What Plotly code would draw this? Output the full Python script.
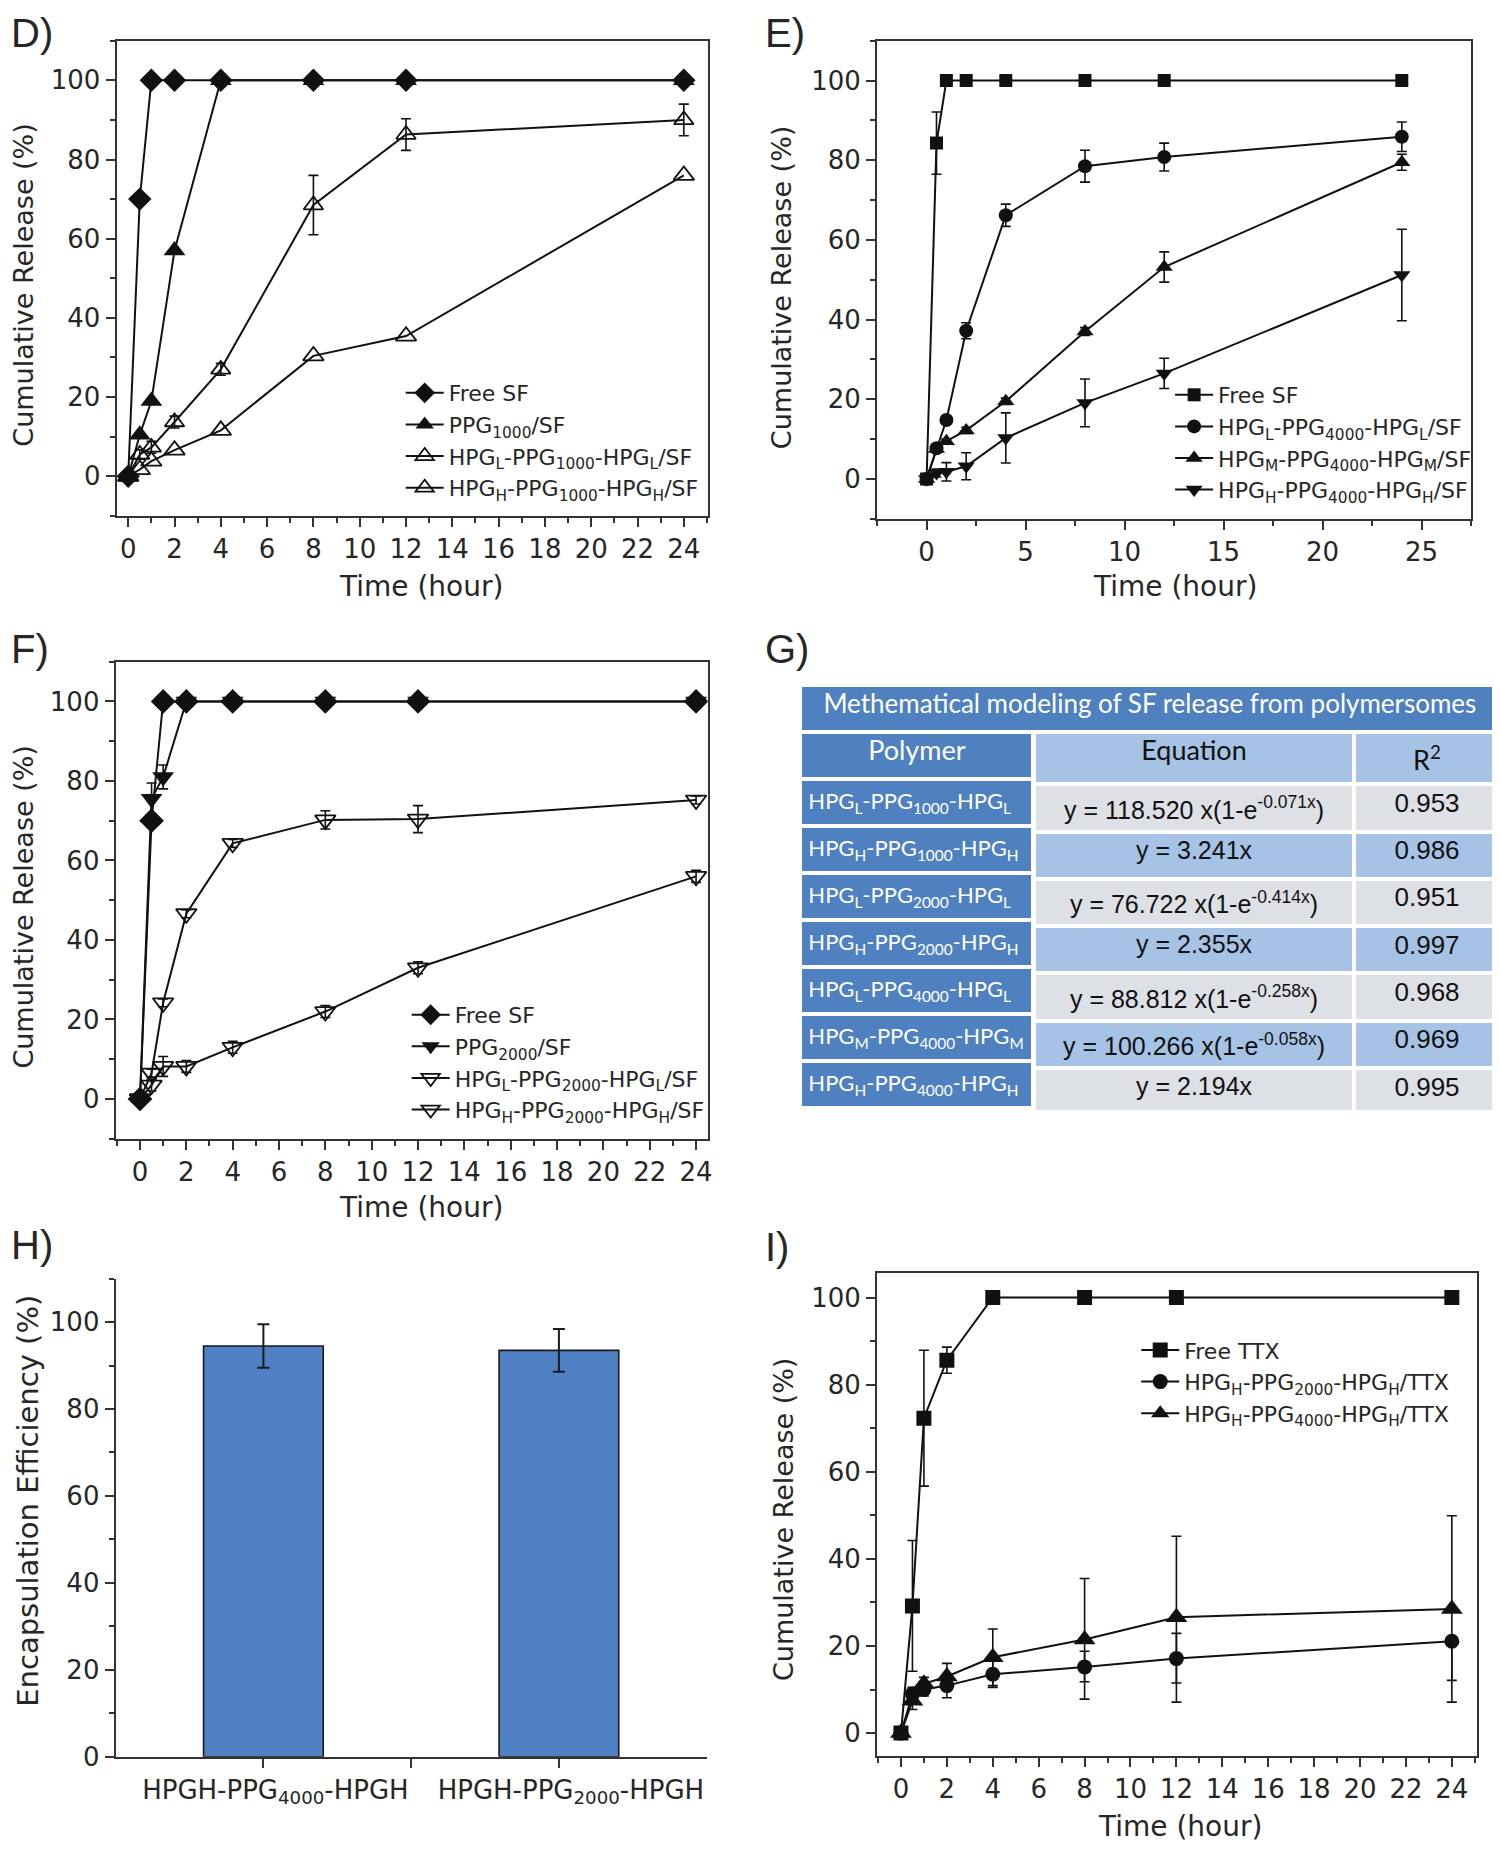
import plotly.graph_objects as go

W, H = 1500, 1853
FONT = "DejaVu Sans, Verdana, sans-serif"
ARIAL = "Liberation Sans, Arial, sans-serif"
HUM = "Lato, Open Sans, sans-serif"
TXT = "#262626"
LC = "#111111"

# ---------------- data ----------------
t = [0, 0.5, 1, 2, 4, 8, 12, 24]

# Panel D
d_free = [0, 70, 100, 100, 100, 100, 100, 100]
d_ppg = [0, 10.5, 19, 57, 100, 100, 100, 100]
d_hpgl = [0, 5.5, 7.3, 13.7, 27, 68.5, 86.3, 90]
d_hpgl_err = [0, 1.2, 1.5, 1.5, 1.5, 7.5, 4, 4]
d_hpgh = [0, 1.7, 3.8, 6.6, 11.6, 30.4, 35.4, 76]

# Panel E
e_free = [0, 84.3, 100, 100, 100, 100, 100, 100]
e_free_err = [0, 7.8, 0, 0, 0, 0, 0, 0]
e_hpgl = [0, 7.7, 14.8, 37.2, 66.2, 78.5, 80.8, 85.9]
e_hpgl_err = [0, 0.5, 1, 2, 2.8, 4, 3.5, 3.7]
e_hpgm = [0, 7.5, 9.5, 12.2, 19.5, 37, 53.2, 79.5]
e_hpgm_err = [0, 0.5, 0.5, 0.8, 0.8, 1, 3.8, 2]
e_hpgh = [0, 1.5, 1.8, 3.2, 10.3, 19.1, 26.5, 51.2]
e_hpgh_err = [0, 1, 2.3, 3.4, 6.3, 6, 3.8, 11.5]

# Panel F
f_free = [0, 70, 100, 100, 100, 100, 100, 100]
f_ppg = [0, 75.5, 81, 100, 100, 100, 100, 100]
f_ppg_err = [0, 4, 3, 0, 0, 0, 0, 0]
f_hpgl = [0, 6.5, 24.2, 46.6, 64.3, 70.2, 70.4, 75.2]
f_hpgl_err = [0, 1, 1, 1, 1, 2.3, 3.4, 1]
f_hpgh = [0, 3.5, 8.2, 8.2, 13, 22, 33, 56]
f_hpgh_err = [0, 1.5, 2.5, 1.5, 1.5, 1.5, 1.5, 1.5]

# Panel G (table)
g_title = "Methematical modeling of SF release from polymersomes"
g_header_poly = ["Polymer"]
g_header_fit = ["Equation", "R<sup>2</sup>"]
g_polymer = [
    "HPG<sub>L</sub>-PPG<sub>1000</sub>-HPG<sub>L</sub>",
    "HPG<sub>H</sub>-PPG<sub>1000</sub>-HPG<sub>H</sub>",
    "HPG<sub>L</sub>-PPG<sub>2000</sub>-HPG<sub>L</sub>",
    "HPG<sub>H</sub>-PPG<sub>2000</sub>-HPG<sub>H</sub>",
    "HPG<sub>L</sub>-PPG<sub>4000</sub>-HPG<sub>L</sub>",
    "HPG<sub>M</sub>-PPG<sub>4000</sub>-HPG<sub>M</sub>",
    "HPG<sub>H</sub>-PPG<sub>4000</sub>-HPG<sub>H</sub>",
]
g_equation = [
    "y = 118.520 x(1-e<sup>-0.071x</sup>)",
    "y = 3.241x",
    "y = 76.722 x(1-e<sup>-0.414x</sup>)",
    "y = 2.355x",
    "y = 88.812 x(1-e<sup>-0.258x</sup>)",
    "y = 100.266 x(1-e<sup>-0.058x</sup>)",
    "y = 2.194x",
]
g_r2 = ["0.953", "0.986", "0.951", "0.997", "0.968", "0.969", "0.995"]

# Panel H
h_cats = ["HPGH-PPG<sub>4000</sub>-HPGH", "HPGH-PPG<sub>2000</sub>-HPGH"]
h_vals = [94.5, 93.5]
h_err = [5, 4.9]

# Panel I
i_free = [0, 29.2, 72.3, 85.6, 100, 100, 100, 100]
i_free_err = [0, 15, 15.6, 3, 0, 0, 0, 0]
i_p2000 = [0, 9, 10, 10.9, 13.5, 15.2, 17.1, 21.1]
i_p2000_up = [0, 1.5, 1.5, 2.5, 3, 3.6, 5.8, 0]
i_p2000_dn = [0, 1.5, 1.5, 2.8, 3, 7.4, 10, 14]
i_p4000 = [0, 7.4, 11.3, 13, 17.4, 21.5, 26.6, 28.5]
i_p4000_up = [0, 2, 1.5, 3, 6.5, 14, 18.6, 21.4]
i_p4000_dn = [0, 2, 1.5, 3, 6.5, 9.7, 15.1, 16.4]

# ---------------- helpers ----------------
def xd(a, b):
    return [a / W, b / W]

def yd(top, bottom):
    return [1 - bottom / H, 1 - top / H]

def px(x):
    return x / W

def py(y):
    return 1 - y / H

def err(arr, arrm=None):
    d = dict(type="data", array=arr, visible=True, color=LC, thickness=1.6, width=5)
    if arrm is not None:
        d["symmetric"] = False
        d["arrayminus"] = arrm
    return d

def trace(x, y, name, sym, size, xa, ya, leg, e=None, rank=1, open_=False):
    mk = dict(symbol=sym, size=size, color=LC)
    mk["line"] = dict(color=LC, width=1.8 if open_ else 0)
    return go.Scatter(
        x=x, y=y, name=name, mode="lines+markers",
        line=dict(color=LC, width=2), marker=mk,
        error_y=e if e is not None else dict(visible=False),
        xaxis=xa, yaxis=ya, legend=leg, legendrank=rank,
    )

fig = go.Figure()

# D
fig.add_trace(trace(t, d_hpgh, "HPG<sub>H</sub>-PPG<sub>1000</sub>-HPG<sub>H</sub>/SF", "triangle-up-open", 18, "x", "y", "legend", rank=4, open_=True))
fig.add_trace(trace(t, d_hpgl, "HPG<sub>L</sub>-PPG<sub>1000</sub>-HPG<sub>L</sub>/SF", "triangle-up-open", 17, "x", "y", "legend", err(d_hpgl_err), rank=3, open_=True))
fig.add_trace(trace(t, d_ppg, "PPG<sub>1000</sub>/SF", "triangle-up", 19, "x", "y", "legend", rank=2))
fig.add_trace(trace(t, d_free, "Free SF", "diamond", 18, "x", "y", "legend", rank=1))

# E
fig.add_trace(trace(t, e_hpgh, "HPG<sub>H</sub>-PPG<sub>4000</sub>-HPG<sub>H</sub>/SF", "triangle-down", 15, "x2", "y2", "legend2", err(e_hpgh_err), rank=4))
fig.add_trace(trace(t, e_hpgm, "HPG<sub>M</sub>-PPG<sub>4000</sub>-HPG<sub>M</sub>/SF", "triangle-up", 15, "x2", "y2", "legend2", err(e_hpgm_err), rank=3))
fig.add_trace(trace(t, e_hpgl, "HPG<sub>L</sub>-PPG<sub>4000</sub>-HPG<sub>L</sub>/SF", "circle", 14, "x2", "y2", "legend2", err(e_hpgl_err), rank=2))
fig.add_trace(trace(t, e_free, "Free SF", "square", 13, "x2", "y2", "legend2", err(e_free_err), rank=1))

# F
fig.add_trace(trace(t, f_hpgh, "HPG<sub>H</sub>-PPG<sub>2000</sub>-HPG<sub>H</sub>/SF", "triangle-down-open", 18, "x3", "y3", "legend3", err(f_hpgh_err), rank=4, open_=True))
fig.add_trace(trace(t, f_hpgl, "HPG<sub>L</sub>-PPG<sub>2000</sub>-HPG<sub>L</sub>/SF", "triangle-down-open", 18, "x3", "y3", "legend3", err(f_hpgl_err), rank=3, open_=True))
fig.add_trace(trace(t, f_ppg, "PPG<sub>2000</sub>/SF", "triangle-down", 19, "x3", "y3", "legend3", err(f_ppg_err), rank=2))
fig.add_trace(trace(t, f_free, "Free SF", "diamond", 19, "x3", "y3", "legend3", rank=1))

# I
fig.add_trace(trace(t, i_p4000, "HPG<sub>H</sub>-PPG<sub>4000</sub>-HPG<sub>H</sub>/TTX", "triangle-up", 19, "x5", "y5", "legend4", err(i_p4000_up, i_p4000_dn), rank=3))
fig.add_trace(trace(t, i_p2000, "HPG<sub>H</sub>-PPG<sub>2000</sub>-HPG<sub>H</sub>/TTX", "circle", 15, "x5", "y5", "legend4", err(i_p2000_up, i_p2000_dn), rank=2))
fig.add_trace(trace(t, i_free, "Free TTX", "square", 15, "x5", "y5", "legend4", err(i_free_err), rank=1))

# H bars
fig.add_trace(go.Bar(
    x=[0, 1], y=h_vals, width=0.405, xaxis="x4", yaxis="y4", showlegend=False,
    marker=dict(color="#4F81C4", line=dict(color="#1a1a1a", width=1.6)),
    error_y=dict(type="data", array=h_err, visible=True, color="#1a1a1a", thickness=2, width=6),
))

# G table
blue, lblue, gray = "#4F81C1", "#A6C3E5", "#DDE0E4"
alt = [gray if i % 2 == 0 else lblue for i in range(len(g_r2))]
TX0, TX1, TXS = 795, 1497, 234  # table left, right, polymer column split (px)
fig.add_trace(go.Table(
    domain=dict(x=xd(TX0, TX1), y=yd(683, 733)),
    header=dict(values=[g_title], fill_color=blue, line=dict(color="white", width=4),
                font=dict(family=HUM, size=26, color="white"), height=47, align="center"),
    cells=dict(values=[[""]], fill_color="white", line=dict(color="white", width=0),
               font=dict(size=1, color="white"), height=1),
))
fig.add_trace(go.Table(
    domain=dict(x=xd(TX0, TX0 + TXS), y=yd(730, 1112)),
    header=dict(values=g_header_poly, fill_color=blue, line=dict(color="white", width=4),
                font=dict(family=HUM, size=27, color="white"), height=47, align="center"),
    cells=dict(values=[g_polymer], fill_color=blue, line=dict(color="white", width=4),
               font=dict(family=HUM, size=22, color="white"), height=47, align="left"),
))
fig.add_trace(go.Table(
    domain=dict(x=xd(TX0 + TXS, TX1), y=yd(730, 1112)),
    columnwidth=[314, 142],
    header=dict(values=g_header_fit, fill_color=lblue, line=dict(color="white", width=4),
                font=dict(family=HUM, size=27, color="#111"), height=47, align="center"),
    cells=dict(values=[g_equation, g_r2], fill_color=[alt, alt], line=dict(color="white", width=4),
               font=dict(family=ARIAL, size=[25, 26], color="#111"), height=47, align="center"),
))

# ---------------- axes ----------------
tickfont = dict(family=FONT, size=26, color=TXT)

def xax(dom, rng, dtick, mdtick, anchor, mirror=True):
    return dict(domain=dom, range=rng, anchor=anchor, tickmode="linear", tick0=0, dtick=dtick,
                ticks="outside", ticklen=9, tickwidth=2, tickcolor="#333",
                minor=dict(ticks="outside", ticklen=5, tickwidth=1.5, tickcolor="#333", dtick=mdtick, tick0=0),
                showline=True, linecolor="#333", linewidth=2, mirror=mirror,
                showgrid=False, zeroline=False, tickfont=tickfont)

def yax(dom, rng, anchor, mirror=True):
    return dict(domain=dom, range=rng, anchor=anchor, tickmode="linear", tick0=0, dtick=20,
                ticks="outside", ticklen=9, tickwidth=2, tickcolor="#333",
                minor=dict(ticks="outside", ticklen=5, tickwidth=1.5, tickcolor="#333", dtick=10, tick0=0),
                showline=True, linecolor="#333", linewidth=2, mirror=mirror,
                showgrid=False, zeroline=False, tickfont=tickfont)

layout = dict(
    width=W, height=H, margin=dict(l=0, r=0, t=0, b=0),
    paper_bgcolor="white", plot_bgcolor="white",
    xaxis=xax(xd(109, 702), [-0.5, 25.03], 2, 1, "y"),
    yaxis=yax(yd(33, 512), [-10, 110], "x"),
    xaxis2=xax(xd(872, 1468), [-2.5, 27.5], 5, 2.5, "y2"),
    yaxis2=yax(yd(33, 515), [-10, 110], "x2"),
    xaxis3=xax(xd(108, 702), [-1.05, 24.5], 2, 1, "y3"),
    yaxis3=yax(yd(659, 1140), [-10, 110], "x3"),
    xaxis5=xax(xd(872, 1474), [-1.04, 25.1], 2, 1, "y5"),
    yaxis5=yax(yd(1275, 1762), [-5.2, 105.7], "x5"),
)
hx = dict(domain=xd(108, 701), range=[-0.5, 1.5], anchor="y4", tickmode="array", tickvals=[0, 1],
          ticktext=h_cats, ticks="outside", ticklen=9, tickwidth=2, tickcolor="#333",
          minor=dict(ticks="outside", ticklen=9, tickwidth=2, tickcolor="#333", tickmode="array", tickvals=[0.5]),
          showline=True, linecolor="#333", linewidth=2, showgrid=False, zeroline=False,
          ticklabelshift=12, tickfont=dict(family=FONT, size=26, color=TXT))
hy = yax(yd(1281, 1763), [0, 110], "x4", mirror=False)
layout["xaxis4"] = hx
layout["yaxis4"] = hy

legfont = dict(family=FONT, size=22, color=TXT)
def leg(x, ytop):
    return dict(x=px(x), y=py(ytop), xanchor="left", yanchor="top", bgcolor="rgba(0,0,0,0)",
                font=legfont, itemwidth=38, borderwidth=0, tracegroupgap=0)
layout["legend"] = leg(394, 367)
layout["legend2"] = leg(1166, 369)
layout["legend3"] = leg(400, 994)
layout["legend4"] = leg(1132, 1332)

fig.update_layout(**layout)

# ---------------- text annotations ----------------
ann = []
def a(text, x, y, size, angle=0, xanchor="center", family=FONT):
    ann.append(dict(text=text, x=px(x), y=py(y), xref="paper", yref="paper", showarrow=False,
                    textangle=angle, xanchor=xanchor, yanchor="middle",
                    font=dict(family=family, size=size, color=TXT)))

for lab, x, y in [("D)", 1, 25), ("E)", 758, 25), ("F)", 1, 646), ("G)", 758, 646), ("H)", 1, 1247), ("I)", 758, 1249)]:
    a(lab, x, y, 40, xanchor="left", family=ARIAL)

a("Time (hour)", 414, 583, 28)
a("Time (hour)", 1171, 583, 28)
a("Time (hour)", 414, 1209, 28)
a("Time (hour)", 1176, 1833, 28)
a("Cumulative Release (%)", 16, 279, 27, -90)
a("Cumulative Release (%)", 776, 281, 27, -90)
a("Cumulative Release (%)", 16, 906, 27, -90)
a("Cumulative Release (%)", 778, 1523, 27, -90)
a("Encapsulation Efficiency (%)", 20, 1505, 29, -90)

fig.update_layout(annotations=ann)
fig.write_html("out.html")
